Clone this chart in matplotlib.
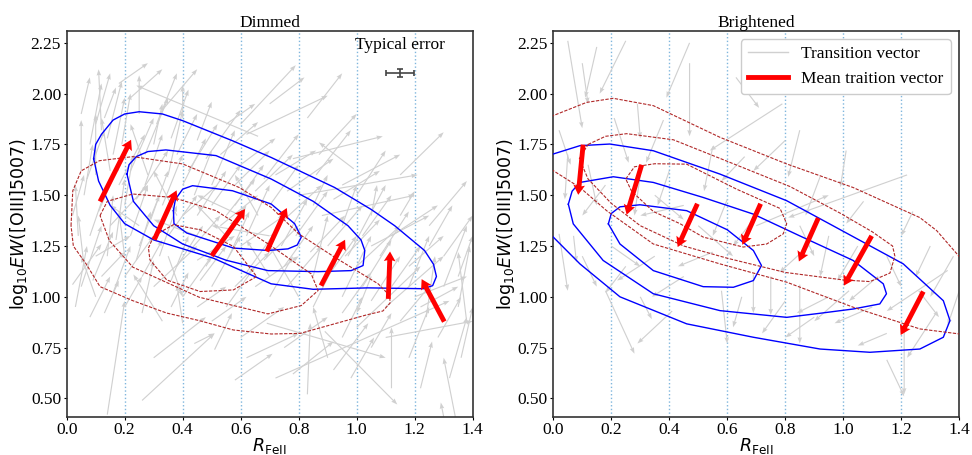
import matplotlib
matplotlib.use('Agg')
import matplotlib.pyplot as plt
import numpy as np
from matplotlib.lines import Line2D

plt.rcParams['font.family'] = ['Liberation Serif', 'DejaVu Serif']
plt.rcParams['mathtext.fontset'] = 'dejavusans'

# ---------------- data ----------------
titles = ["Dimmed", "Brightened"]
xticks = [0.0, 0.2, 0.4, 0.6, 0.8, 1.0, 1.2, 1.4]
yticks = [0.50, 0.75, 1.00, 1.25, 1.50, 1.75, 2.00, 2.25]
vlines = [0.2, 0.4, 0.6, 0.8, 1.0, 1.2]

# individual transition vectors (tail x, tail y, head x, head y)
dim_vec = [
    (0.12,1.82,0.11,2.12),(0.22,1.98,0.33,2.12),(0.25,1.90,0.25,2.09),(0.13,1.88,0.17,2.03),
    (0.40,1.88,0.40,2.04),(0.45,1.77,0.50,1.96),(0.05,1.62,0.05,1.87),(0.10,1.60,0.10,1.90),
    (0.66,1.79,0.24,2.04),(0.16,1.70,0.20,1.98),(0.30,1.75,0.33,1.95),(0.35,1.60,0.40,1.92),
    (0.55,1.85,0.65,1.95),(0.18,1.55,0.27,1.80),(0.06,1.50,0.09,1.75),(0.20,1.45,0.23,1.70),
    (0.28,1.60,0.22,1.85),(0.02,1.40,0.06,1.60),(0.33,1.45,0.40,1.70),(0.40,1.55,0.48,1.78),
    (0.50,1.55,0.58,1.82),(0.60,1.65,0.72,1.78),(0.45,1.40,0.55,1.62),(0.08,1.30,0.14,1.55),
    (0.14,1.20,0.16,1.50),(0.25,1.25,0.32,1.50),(0.35,1.30,0.45,1.50),(0.55,1.40,0.65,1.58),
    (0.62,1.30,0.70,1.55),(0.70,1.45,0.80,1.65),(0.60,1.85,0.79,2.14),(0.83,1.88,0.95,2.10),
    (0.62,1.80,0.90,1.99),(0.78,1.68,1.09,1.79),(1.15,1.60,1.30,1.81),(0.80,1.50,1.21,1.60),
    (1.25,1.35,1.38,1.57),(0.99,1.63,0.87,1.76),(0.85,1.45,0.90,1.60),(0.95,1.35,1.00,1.55),
    (1.05,1.40,1.07,1.55),(1.15,1.40,1.20,1.52),(0.60,1.25,0.75,1.40),(0.75,1.15,0.85,1.35),
    (0.85,1.10,0.90,1.40),(0.90,1.25,1.02,1.45),(0.95,1.00,1.05,1.30),(1.00,1.15,1.15,1.35),
    (0.30,1.05,0.45,1.25),(0.40,1.00,0.50,1.20),(0.50,1.05,0.60,1.30),(0.55,0.95,0.65,1.15),
    (0.65,1.05,0.80,1.20),(0.20,1.10,0.30,1.30),(0.10,1.20,0.22,1.30),(0.05,1.05,0.12,1.35),
    (0.45,1.30,0.30,1.38),(0.70,1.30,0.50,1.35),(0.80,1.00,0.70,1.25),(1.05,1.10,1.00,0.92),
    (0.35,1.20,0.40,1.00),(0.25,1.35,0.15,1.45),(0.60,1.40,0.45,1.50),(1.38,0.87,1.35,1.22),
    (1.34,0.41,1.30,0.70),(1.30,0.41,1.29,0.48),(1.12,0.55,1.12,0.85),(0.72,0.60,1.32,0.98),
    (0.92,0.64,1.04,0.87),(0.83,0.52,0.84,0.87),(0.69,0.87,1.10,0.70),(0.89,0.83,1.14,0.47),
    (1.24,0.90,1.27,1.20),(1.20,1.00,1.38,1.10),(1.10,0.95,1.30,1.20),(1.00,0.85,1.22,1.15),
    (1.10,0.80,1.40,0.88),(1.35,0.95,1.39,1.25),(1.30,1.05,1.38,1.35),(1.25,1.25,1.33,1.45),
    (1.05,1.25,1.25,1.40),(0.14,0.42,0.20,0.98),(0.26,0.49,0.51,0.82),(0.58,0.59,0.71,0.72),
    (0.44,0.77,0.51,0.82),(0.51,0.74,0.57,0.92),(0.02,1.06,0.12,1.26),(0.26,0.92,0.30,1.18),
    (0.33,0.88,0.23,1.11),(0.40,0.87,0.38,1.06),(0.10,1.00,0.05,1.20),(0.45,0.95,0.55,1.05),
    (0.60,0.80,0.75,0.95),(0.75,0.75,0.90,0.90),(0.90,0.70,0.85,0.95),(0.88,1.40,1.20,1.50),
    (0.70,1.95,0.82,2.08),(1.30,1.20,1.40,1.40),(1.18,1.05,1.25,1.30),(0.97,1.20,1.10,1.55),
    (0.38,1.40,0.30,1.62),(0.52,1.25,0.62,1.45),(0.15,1.35,0.28,1.55),(0.70,1.10,0.62,1.28),
    (0.08,1.75,0.12,2.05),(0.15,1.62,0.12,1.88),(0.22,1.62,0.30,1.88),(0.27,1.70,0.35,1.98),
    (0.31,1.85,0.38,2.10),(0.38,1.70,0.45,1.90),(0.42,1.62,0.52,1.85),(0.48,1.68,0.60,1.92),
    (0.53,1.70,0.66,1.86),(0.58,1.55,0.70,1.72),(0.65,1.52,0.78,1.70),(0.72,1.60,0.86,1.72),
    (0.76,1.52,0.92,1.68),(0.04,1.30,0.03,1.55),(0.11,1.42,0.18,1.65),(0.17,1.28,0.20,1.58),
    (0.22,1.30,0.28,1.55),(0.29,1.38,0.35,1.62),(0.32,1.20,0.38,1.45),(0.38,1.15,0.47,1.35),
    (0.42,1.22,0.53,1.40),(0.48,1.15,0.58,1.38),(0.56,1.20,0.63,1.42),(0.62,1.12,0.72,1.32),
    (0.68,1.18,0.80,1.35),(0.74,1.25,0.83,1.48),(0.79,1.30,0.90,1.52),(0.84,1.22,0.96,1.40),
    (0.90,1.10,1.00,1.30),(0.96,1.20,1.08,1.38),(1.02,1.30,1.12,1.50),(1.08,1.20,1.18,1.42),
    (0.20,1.20,0.18,1.42),(0.26,1.10,0.33,1.28),(0.12,1.10,0.20,1.22),(0.36,1.08,0.42,1.30),
    (0.46,1.08,0.55,1.25),(0.58,1.05,0.70,1.22),(0.70,1.00,0.78,1.20),(0.76,1.05,0.88,1.25),
    (0.85,0.95,0.93,1.18),(0.95,0.92,1.05,1.12),(1.05,0.98,1.15,1.20),(1.12,1.05,1.22,1.25),
    (1.18,1.15,1.30,1.30),(1.22,0.95,1.35,1.05),(1.28,0.80,1.36,1.00),(1.32,0.60,1.38,0.90),
    (1.18,0.70,1.25,0.95),(1.05,0.75,1.12,0.92),(0.95,0.80,1.02,1.00),(0.50,0.88,0.62,1.00),
    (0.36,0.95,0.42,1.12),(0.20,0.95,0.26,1.10),(0.08,0.90,0.15,1.10),(0.06,1.15,0.04,1.40),
    (0.55,1.30,0.45,1.45),(0.40,1.40,0.52,1.55),(0.66,1.40,0.58,1.60),(0.50,1.45,0.60,1.65),
    (0.86,1.60,0.98,1.82),(0.95,1.55,1.15,1.70),(1.00,1.50,1.10,1.72),(0.24,1.48,0.35,1.72),
    (0.14,1.78,0.19,2.06),(0.05,1.90,0.08,2.08),(0.33,1.92,0.45,2.12),(0.18,2.05,0.28,2.15),
    (0.03,0.95,0.07,1.25),(0.09,1.08,0.16,1.32),(0.16,1.02,0.22,1.25),(0.13,0.92,0.18,1.08),
    (0.24,1.18,0.29,1.42),(0.07,1.58,0.13,1.82),(0.19,1.75,0.22,2.00),(0.36,1.78,0.42,2.02),
    (0.10,1.85,0.15,2.10),(0.27,1.55,0.33,1.80),(0.44,1.50,0.50,1.72),(0.58,1.45,0.68,1.65),
    (0.68,1.58,0.80,1.80),(0.87,1.70,1.00,1.90),(0.92,1.48,1.08,1.62),(1.12,1.30,1.28,1.45),
    (1.35,1.10,1.40,1.30),(1.36,0.70,1.40,0.95),(1.22,0.55,1.26,0.78),(0.98,0.60,1.06,0.80),
    (0.78,0.62,0.92,0.78),(0.62,0.70,0.80,0.82),(0.30,0.70,0.48,0.90),(0.45,1.18,0.58,1.30),
    (0.53,1.35,0.66,1.50),(0.75,1.38,0.88,1.55),(1.15,0.88,1.25,1.05),(1.02,1.05,1.12,1.28),
]
bri_vec = [
    (0.05,2.26,0.10,1.83),(0.15,2.23,0.11,1.98),(0.10,2.15,0.12,1.95),(0.25,2.26,0.16,2.00),
    (0.47,2.25,0.39,1.98),(0.47,2.15,0.47,1.79),(0.63,2.08,0.71,1.93),(0.79,1.95,0.54,1.72),
    (0.85,1.82,0.81,1.59),(0.02,1.82,0.06,1.65),(1.22,1.60,0.81,1.39),(0.29,1.95,0.30,1.78),
    (0.21,1.88,0.26,1.66),(0.38,1.87,0.32,1.66),(0.55,1.74,0.52,1.52),(0.80,1.77,0.69,1.62),
    (0.66,1.69,0.58,1.57),(1.01,1.72,0.99,1.54),(0.92,1.59,0.87,1.40),(1.07,1.47,1.01,1.36),
    (1.24,1.42,1.20,1.30),(0.05,1.70,0.04,1.48),(0.12,1.65,0.15,1.45),(0.18,1.55,0.10,1.40),
    (0.30,1.60,0.28,1.40),(0.35,1.50,0.45,1.38),(0.40,1.62,0.36,1.45),(0.45,1.45,0.30,1.40),
    (0.60,1.48,0.55,1.30),(0.70,1.40,0.62,1.25),(0.85,1.35,0.90,1.20),(0.95,1.30,0.92,1.10),
    (1.05,1.25,0.98,1.08),(1.15,1.20,1.20,1.05),(1.30,1.25,1.25,1.10),(1.38,1.20,1.30,1.00),
    (0.02,1.31,0.05,1.03),(0.07,1.30,0.08,1.17),(0.18,1.03,0.28,0.72),(0.41,0.93,0.29,0.77),
    (0.30,1.00,0.34,0.89),(0.58,1.03,0.60,0.77),(0.69,1.11,0.69,0.92),(0.75,1.10,0.75,0.91),
    (0.85,1.06,0.85,0.77),(1.02,1.03,0.90,0.88),(1.15,0.69,1.21,0.51),(1.21,0.86,1.21,0.52),
    (1.32,0.92,1.22,0.70),(1.36,1.13,1.15,0.93),(1.40,1.03,1.36,0.86),(1.26,1.03,1.33,0.90),
    (0.25,1.15,0.18,1.02),(0.35,1.20,0.22,1.08),(0.45,1.10,0.34,1.00),(0.55,1.22,0.43,1.15),
    (0.65,1.00,0.62,0.85),(0.80,0.98,0.72,0.82),(0.95,1.00,0.84,0.92),(1.10,0.95,0.97,0.87),
    (1.15,0.82,1.05,0.76),(0.90,0.90,0.80,0.80),(0.50,1.35,0.62,1.20),(0.20,1.25,0.30,1.15),
    (0.10,1.20,0.15,1.05),(0.70,1.35,0.95,1.50),(0.88,1.25,0.78,1.12),(1.12,1.10,1.02,0.98),
]

# mean transition vectors (tail x, tail y, head x, head y)
dim_mean = [(0.115,1.469,0.222,1.773),(0.302,1.281,0.379,1.524),(0.500,1.202,0.615,1.432),
            (0.690,1.223,0.759,1.437),(0.877,1.055,0.960,1.281),(1.109,0.990,1.115,1.223),
            (1.302,0.878,1.224,1.087)]
bri_mean = [(0.103,1.749,0.086,1.502),(0.305,1.650,0.253,1.404),(0.497,1.458,0.429,1.245),
            (0.715,1.458,0.652,1.256),(0.914,1.388,0.847,1.174),(1.098,1.300,1.002,1.055),
            (1.276,1.026,1.198,0.812)]

# density contours (x, y)
dim_blue = [
    [(0.093,1.68),(0.10,1.75),(0.12,1.80),(0.16,1.87),(0.20,1.90),(0.25,1.911),(0.33,1.90),
     (0.40,1.867),(0.572,1.768),(0.705,1.686),(0.924,1.538),(1.05,1.43),(1.131,1.35),(1.234,1.228),
     (1.265,1.16),(1.275,1.10),(1.262,1.055),(1.23,1.04),(1.039,1.044),(0.85,1.037),(0.705,1.064),
     (0.506,1.19),(0.30,1.28),(0.20,1.36),(0.15,1.45),(0.11,1.57),(0.093,1.68)],
    [(0.208,1.604),(0.215,1.65),(0.24,1.69),(0.28,1.715),(0.342,1.723),(0.515,1.695),(0.705,1.58),
     (0.85,1.47),(0.97,1.35),(1.015,1.28),(1.028,1.228),(1.022,1.154),(0.981,1.129),(0.867,1.124),
     (0.694,1.129),(0.55,1.18),(0.40,1.26),(0.30,1.35),(0.23,1.47),(0.208,1.604)],
    [(0.368,1.424),(0.375,1.48),(0.40,1.53),(0.434,1.547),(0.572,1.522),(0.705,1.457),(0.786,1.36),
     (0.809,1.294),(0.795,1.255),(0.763,1.236),(0.694,1.228),(0.575,1.24),(0.414,1.314),(0.37,1.36),
     (0.368,1.424)],
]
dim_red = [
    [(0.015,1.35),(0.021,1.522),(0.05,1.62),(0.113,1.67),(0.228,1.69),(0.40,1.654),(0.595,1.538),
     (0.705,1.44),(0.80,1.31),(0.924,1.195),(1.074,1.064),(1.114,1.006),(1.115,0.969),(1.09,0.93),
     (1.034,0.911),(0.805,0.82),(0.705,0.817),(0.574,0.837),(0.457,0.883),(0.345,0.92),(0.228,0.981),
     (0.115,1.05),(0.067,1.162),(0.023,1.25),(0.015,1.35)],
    [(0.115,1.40),(0.14,1.47),(0.228,1.506),(0.366,1.489),(0.515,1.424),(0.694,1.261),(0.843,1.113),
     (0.867,1.031),(0.809,0.957),(0.694,0.916),(0.457,0.998),(0.228,1.146),(0.147,1.277),(0.115,1.40)],
    [(0.282,1.24),(0.30,1.30),(0.368,1.355),(0.46,1.33),(0.575,1.248),(0.655,1.10),(0.575,1.034),
     (0.46,1.026),(0.345,1.083),(0.287,1.182),(0.282,1.24)],
]
bri_blue = [
    [(-0.05,1.66),(0.0,1.703),(0.092,1.744),(0.195,1.752),(0.345,1.719),(0.575,1.604),(0.805,1.473),
     (0.954,1.358),(1.207,1.162),(1.345,0.981),(1.368,0.883),(1.345,0.801),(1.264,0.743),(1.092,0.727),
     (0.92,0.743),(0.69,0.801),(0.46,0.867),(0.23,1.0),(0.092,1.162),(0.0,1.294),(-0.05,1.35)],
    [(0.052,1.456),(0.065,1.52),(0.092,1.563),(0.207,1.591),(0.345,1.563),(0.517,1.489),(0.69,1.407),
     (0.85,1.30),(1.034,1.179),(1.138,1.064),(1.149,1.015),(1.126,0.965),(1.034,0.94),(0.92,0.919),
     (0.805,0.899),(0.575,0.932),(0.345,1.015),(0.172,1.179),(0.069,1.359),(0.052,1.456)],
    [(0.19,1.359),(0.20,1.41),(0.23,1.443),(0.299,1.453),(0.46,1.424),(0.60,1.33),(0.69,1.228),
     (0.718,1.154),(0.69,1.08),(0.621,1.047),(0.517,1.05),(0.345,1.129),(0.23,1.26),(0.19,1.359)],
]
bri_red = [
    [(-0.05,1.85),(0.0,1.892),(0.115,1.957),(0.207,1.977),(0.345,1.941),(0.575,1.785),(0.805,1.654),
     (1.034,1.538),(1.264,1.39),(1.322,1.326),(1.402,1.195),(1.45,1.10)],
    [(-0.05,1.66),(0.0,1.621),(0.092,1.538),(0.184,1.424),(0.345,1.26),(0.575,1.162),(0.805,1.072),
     (1.034,0.949),(1.264,0.842),(1.402,0.817),(1.45,0.81)],
    [(0.12,1.75),(0.18,1.79),(0.253,1.803),(0.414,1.773),(0.586,1.675),(0.816,1.543),(0.989,1.412),
     (1.10,1.32),(1.17,1.25),(1.178,1.20),(1.161,1.117),(1.092,1.075),(1.0,1.083),(0.80,1.12),
     (0.60,1.19),(0.45,1.25),(0.30,1.35),(0.20,1.46),(0.12,1.58),(0.09,1.68),(0.12,1.75)],
    [(0.25,1.58),(0.28,1.64),(0.35,1.655),(0.46,1.653),(0.632,1.53),(0.782,1.435),(0.805,1.36),
     (0.793,1.31),(0.736,1.26),(0.655,1.245),(0.517,1.294),(0.437,1.36),(0.345,1.42),(0.27,1.52),
     (0.25,1.58)],
]

err_x, err_y, err_dx, err_dy = 1.15, 2.10, 0.048, 0.02

# ---------------- plot ----------------
fig = plt.figure(figsize=(9.72, 4.55), dpi=100)
ax1 = fig.add_axes([0.0686, 0.0842, 0.4177, 0.8484])
ax2 = fig.add_axes([0.5692, 0.0842, 0.4177, 0.8484])

panels = [(ax1, dim_vec, dim_mean, dim_blue, dim_red),
          (ax2, bri_vec, bri_mean, bri_blue, bri_red)]

for i, (ax, vec, mean, blue, red) in enumerate(panels):
    v = np.array(vec)
    ax.quiver(v[:, 0], v[:, 1], v[:, 2] - v[:, 0], v[:, 3] - v[:, 1],
              angles='xy', scale_units='xy', scale=1, color='#d0d0d0',
              width=0.0028, headwidth=4, headlength=5.5, headaxislength=5, zorder=1)
    for c in blue:
        c = np.array(c)
        ax.plot(c[:, 0], c[:, 1], color='blue', lw=1.0, zorder=3)
    for c in red:
        c = np.array(c)
        ax.plot(c[:, 0], c[:, 1], color='#b02828', lw=0.8, ls=(0, (3, 1.3)), zorder=3)
    m = np.array(mean)
    ax.quiver(m[:, 0], m[:, 1], m[:, 2] - m[:, 0], m[:, 3] - m[:, 1],
              angles='xy', scale_units='xy', scale=1, color='red',
              width=0.012, headwidth=2.4, headlength=2.0, headaxislength=1.8, zorder=5)
    for xv in vlines:
        ax.axvline(xv, color='#7fb6dd', ls=':', lw=1.0, zorder=0)
    ax.set_xlim(0.0, 1.4)
    ax.set_ylim(0.41, 2.31)
    ax.set_xticks(xticks)
    ax.set_yticks(yticks)
    ax.set_xticklabels([f"{t:.1f}" for t in xticks])
    ax.set_yticklabels([f"{t:.2f}" for t in yticks])
    ax.tick_params(labelsize=12.5, length=2.5, pad=1.5)
    ax.set_title(titles[i], fontsize=12.5, pad=3)
    ax.set_xlabel(r'$R_{\rm FeII}$', fontsize=12.5, family='DejaVu Sans', labelpad=-1.5)
    ax.set_ylabel(r'log$_{10}EW$([OIII]5007)', fontsize=12.5, family='DejaVu Sans', labelpad=0.5)
    for s in ax.spines.values():
        s.set_color('#333333')
        s.set_linewidth(1.2)

ax1.errorbar([err_x], [err_y], xerr=[err_dx], yerr=[err_dy], color='#444444',
             capsize=2, elinewidth=1.2, capthick=1.2, fmt='none')
ax1.text(err_x, 2.20, 'Typical error', ha='center', va='bottom', fontsize=12.5)

handles = [Line2D([], [], color='#d0d0d0', lw=1),
           Line2D([], [], color='red', lw=3.5)]
ax2.legend(handles, ['Transition vector', 'Mean traition vector'], loc='upper right',
           fontsize=12.5, framealpha=1, edgecolor='#cccccc', borderaxespad=0.5,
           handlelength=2.3)

fig.savefig('out.png', dpi=100)
